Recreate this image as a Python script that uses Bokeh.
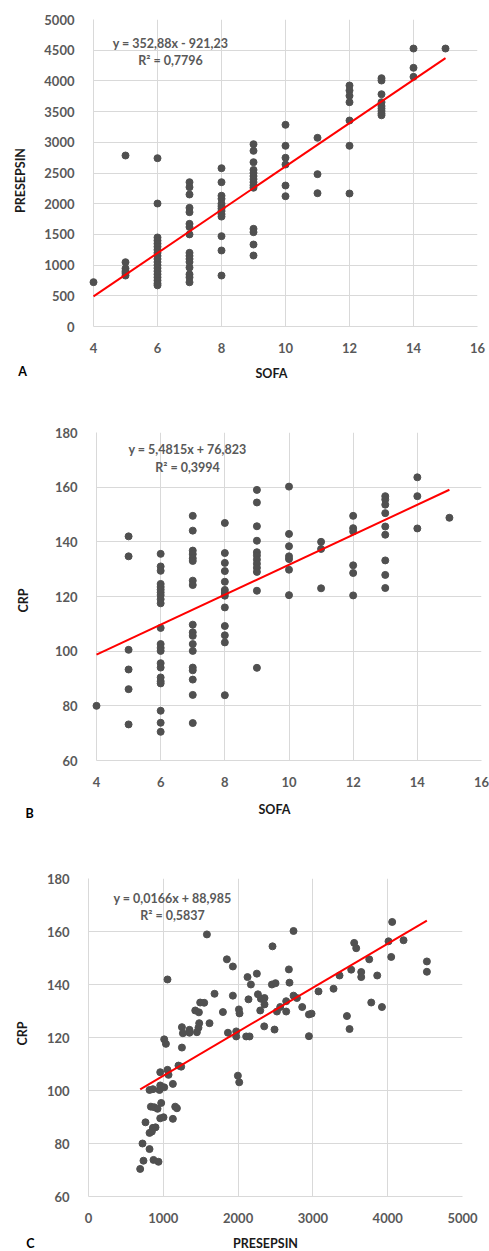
import math
from bokeh.plotting import figure
from bokeh.models import Range1d, Label, SingleIntervalTicker
from bokeh.core.properties import value
from bokeh.embed import file_html
from bokeh.resources import INLINE

# ---------------- data ----------------
sofa_levels = [4, 5, 6, 7, 8, 9, 10, 11, 12, 13, 14, 15]

presepsin_by_sofa = [
    [722],
    [2785, 1047, 945, 900, 870, 830],
    [2741, 2003, 1450, 1400, 1350, 1300, 1250, 1200, 1150, 1100, 1050, 1000, 950, 900, 850, 800, 750, 700, 670],
    [2350, 2269, 2150, 1933, 1862, 1672, 1620, 1500, 1200, 1150, 1100, 1050, 960, 850, 800, 720],
    [2578, 2350, 2130, 2080, 2000, 1960, 1920, 1880, 1830, 1790, 1471, 1238, 830],
    [2969, 2861, 2676, 2550, 2500, 2450, 2400, 2350, 2300, 2260, 1591, 1536, 1335, 1156],
    [3285, 2943, 2748, 2638, 2296, 2122],
    [3073, 2481, 2171],
    [3925, 3844, 3757, 3653, 3355, 2943, 2166],
    [4044, 4006, 3783, 3653, 3590, 3550, 3510, 3470, 3440],
    [4527, 4213, 4066],
    [4527],
]

crp_by_sofa = [
    [80.0],
    [142.0, 134.7, 100.5, 93.3, 86.1, 73.2],
    [135.6, 131.0, 129.4, 124.6, 123.5, 122.5, 121.5, 120.5, 119.0, 117.5, 108.5, 102.6, 101.2, 100.1,
     95.6, 94.0, 90.4, 89.0, 88.2, 78.2, 73.8, 70.5],
    [149.5, 144.1, 136.8, 135.5, 134.0, 133.0, 125.8, 124.2, 109.7, 106.9, 105.6, 102.6, 100.1, 94.0,
     93.0, 89.6, 84.0, 73.7],
    [146.9, 135.9, 132.3, 129.3, 125.4, 122.4, 121.3, 120.3, 116.0, 109.2, 105.8, 103.2, 83.9],
    [159.0, 154.4, 145.7, 140.4, 136.2, 135.0, 133.5, 132.0, 130.5, 129.0, 122.1, 93.9],
    [160.2, 142.9, 138.4, 134.7, 133.7, 129.8, 120.5],
    [140.0, 137.4, 123.0],
    [149.5, 145.0, 143.8, 131.4, 128.6, 120.4],
    [156.7, 155.5, 153.6, 150.5, 145.6, 142.6, 133.2, 127.9, 123.1],
    [163.6, 156.7, 144.9],
    [148.8],
]

presepsin_c = [
    1056, 1583, 1850, 1930, 1685, 1930, 1427, 1476, 1493, 1547, 1797, 1480, 1618, 1249, 1262, 1350, 1350,
    1449, 1470, 1864, 1975, 1975, 2011, 2019, 2126, 2139, 2171, 2108, 2153, 2251, 2265, 2305, 2353, 2353,
    2296, 2349, 2460, 2452, 2500, 2487, 2519, 2563, 2643, 2643, 2679, 2687, 2741, 2741, 2786, 2857, 2947,
    2982, 2947, 3075, 3276, 3356, 3455, 3490, 3512, 3552, 3579, 3646, 3646, 3753, 3780, 3860, 3923, 4011,
    4060, 4047, 4212, 4524, 4524, 1012, 1035, 1249, 959, 1056, 1070, 1203, 1239, 1128, 959, 816, 861, 949,
    1012, 972, 834, 878, 923, 1159, 1182, 959, 1003, 1128, 762, 861, 896, 816, 847, 722, 816, 735, 869,
    936, 691, 1997, 2015,
]
crp_c = [
    141.9, 158.9, 149.5, 146.8, 136.5, 135.8, 130.2, 129.5, 133.2, 133.1, 129.6, 125.4, 125.4, 123.9, 121.6,
    122.9, 121.8, 122.0, 123.7, 121.8, 122.3, 120.4, 130.6, 129.1, 142.8, 134.4, 140.0, 120.4, 120.4, 144.1,
    136.3, 134.6, 134.9, 132.5, 130.2, 124.2, 154.4, 140.0, 140.5, 123.0, 129.8, 131.5, 133.7, 129.8, 145.7,
    140.7, 160.2, 135.8, 134.9, 131.5, 128.7, 129.0, 120.5, 137.4, 138.4, 143.4, 128.1, 123.2, 145.6, 155.7,
    153.7, 144.7, 142.8, 149.5, 133.2, 143.4, 131.5, 156.3, 163.6, 150.4, 156.7, 148.7, 144.8, 119.3, 117.6,
    116.2, 106.9, 107.8, 105.9, 109.4, 109.0, 102.5, 101.9, 100.2, 100.5, 100.2, 101.2, 95.3, 93.9, 93.7,
    93.1, 93.9, 93.3, 89.5, 89.9, 89.3, 88.0, 85.9, 86.1, 84.0, 84.5, 80.0, 77.9, 73.5, 73.8, 73.1, 70.4,
    105.6, 103.1,
]

# trend lines (slope, intercept) and labels as printed on the chart
fit_a = (352.88, -921.23)
fit_b = (5.4815, 76.823)
fit_c = (0.0166, 88.985)
eq_a = ["y = 352,88x - 921,23", "R² = 0,7796"]
eq_b = ["y = 5,4815x + 76,823", "R² = 0,3994"]
eq_c = ["y = 0,0166x + 88,985", "R² = 0,5837"]


def flatten(levels, groups):
    xs, ys = [], []
    for lv, grp in zip(levels, groups):
        for v in grp:
            xs.append(lv)
            ys.append(v)
    return xs, ys


FONT = "Lato"
TICK_COLOR = "#595959"
GRID = "#d9d9d9"
DOT = "#505050"


def panel(xs, ys, xrange_, yrange_, xstep, ystep, fit, eq, xlabel, ylabel, letter, geo):
    left, fw, right, top, fh, bottom = geo["box"]
    p = figure(
        frame_width=fw, frame_height=fh,
        min_border_left=left, min_border_right=right,
        min_border_top=top, min_border_bottom=bottom,
        x_range=Range1d(*xrange_), y_range=Range1d(*yrange_),
        toolbar_location=None, output_backend="svg", title=None,
        background_fill_color="white", border_fill_color="white",
    )
    p.outline_line_color = None
    p.xaxis.ticker = SingleIntervalTicker(interval=xstep)
    p.yaxis.ticker = SingleIntervalTicker(interval=ystep)
    for ax in (p.xaxis[0], p.yaxis[0]):
        ax.axis_line_color = GRID
        ax.axis_line_width = 1
        ax.major_tick_line_color = None
        ax.minor_tick_line_color = None
        ax.major_tick_in = 0
        ax.major_tick_out = 0
        ax.major_label_text_font = FONT
        ax.major_label_text_font_style = "bold"
        ax.major_label_text_font_size = "13px"
        ax.major_label_text_color = TICK_COLOR
    p.xaxis.major_label_standoff = 12
    p.yaxis.major_label_standoff = 15
    p.xgrid.grid_line_color = GRID
    p.ygrid.grid_line_color = GRID
    p.xgrid.grid_line_width = 1
    p.ygrid.grid_line_width = 1

    p.scatter(xs, ys, size=7, fill_color=DOT, line_color=DOT, level="overlay")
    x0, x1 = min(xs), max(xs)
    slope, icpt = fit
    p.line([x0, x1], [slope * x0 + icpt, slope * x1 + icpt], line_color="#ff0000",
           line_width=2, level="overlay")

    ex, ey1, ey2 = geo["eq"]
    for txt, yy in ((eq[0], ey1), (eq[1], ey2)):
        p.add_layout(Label(x=ex, y=yy, x_units="screen", y_units="screen", text=txt,
                           text_font=FONT, text_font_style="bold", text_font_size="12.5px",
                           text_color=TICK_COLOR, text_align="center", text_baseline="middle"))

    # titles outside the frame: text glyphs placed by pixel offsets from the frame corner
    sx = (xrange_[1] - xrange_[0]) / fw
    sy = (yrange_[1] - yrange_[0]) / fh

    def put(txt, px, py, angle, color):
        p.text(x=[xrange_[0] + px * sx], y=[yrange_[0] + py * sy], text=[txt], angle=angle,
               text_font=value(FONT), text_font_style="bold", text_font_size="12.5px",
               text_color=color, text_align="center", text_baseline="middle", level="overlay")

    put(xlabel, *geo["xt"], 0, "#1a1a1a")
    put(ylabel, *geo["yt"], math.pi / 2, "#1a1a1a")
    put(letter, *geo["letter"], 0, "#000000")
    return p


xa, ya = flatten(sofa_levels, presepsin_by_sofa)
xb, yb = flatten(sofa_levels, crp_by_sofa)

# (left, frame_w, right, top, frame_h, bottom) in pixels
geo_a = dict(box=(93, 384, 12, 19, 307, 64), eq=(77, 283, 266), xt=(178, -47),
             yt=(-73, 146), letter=(-71, -45))
geo_b = dict(box=(96, 385, 8, 42, 328, 80), eq=(91, 311, 293), xt=(178, -49),
             yt=(-73, 160), letter=(-67, -53))
geo_c = dict(box=(88, 374, 27, 38, 318, 55), eq=(84, 298, 281), xt=(177, -47),
             yt=(-66, 163), letter=(-58, -47))

pa = panel(xa, ya, (4, 16), (0, 5000), 2, 500, fit_a, eq_a, "SOFA", "PRESEPSIN", "A", geo_a)
pb = panel(xb, yb, (4, 16), (60, 180), 2, 20, fit_b, eq_b, "SOFA", "CRP", "B", geo_b)
pc = panel(presepsin_c, crp_c, (0, 5000), (60, 180), 1000, 20, fit_c, eq_c, "PRESEPSIN", "CRP", "C", geo_c)

# three independent roots, stacked on the page (no frame alignment between them)
open("out.html", "w").write(file_html([pa, pb, pc], INLINE))
